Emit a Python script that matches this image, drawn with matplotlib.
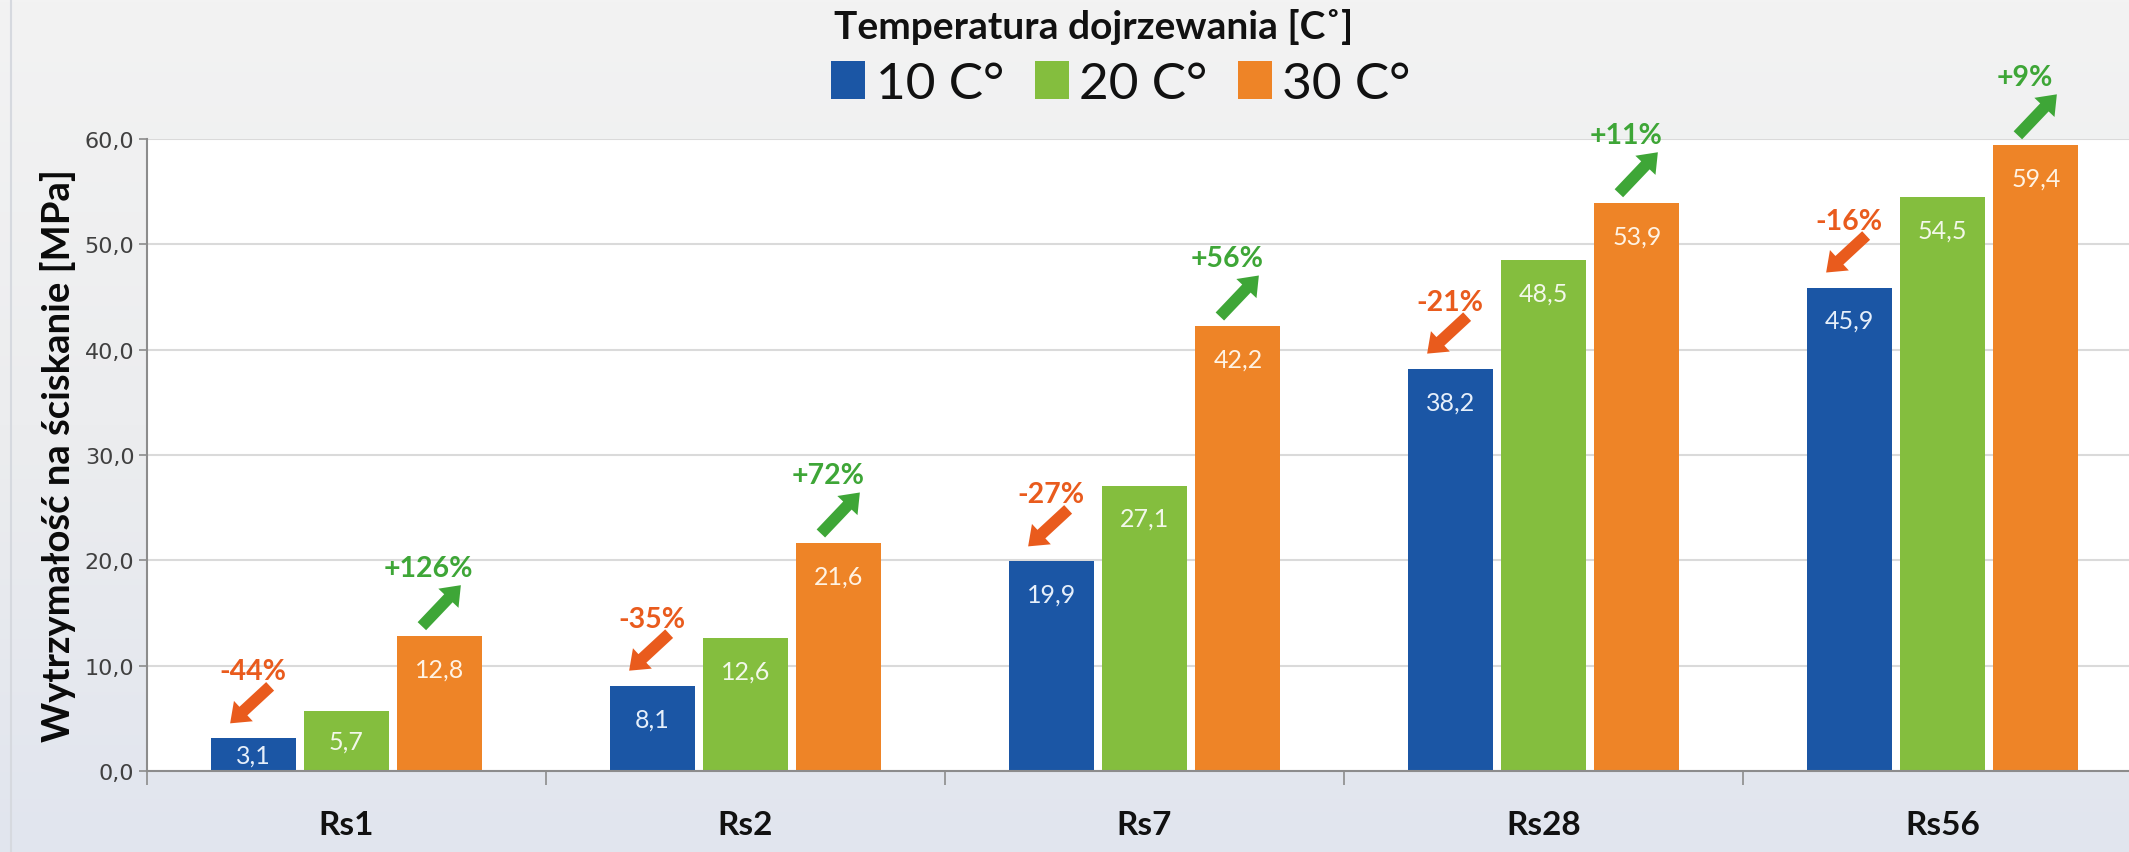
import numpy as np
import matplotlib
matplotlib.use("Agg")
import matplotlib.pyplot as plt
from matplotlib import transforms
from matplotlib.patches import Patch
from matplotlib.lines import Line2D
from matplotlib.colors import LinearSegmentedColormap

# ---- data ----
categories = ["Rs1", "Rs2", "Rs7", "Rs28", "Rs56"]
series_names = ["10 C°", "20 C°", "30 C°"]
t10 = [3.1, 8.1, 19.9, 38.2, 45.9]
t20 = [5.7, 12.6, 27.1, 48.5, 54.5]
t30 = [12.8, 21.6, 42.2, 53.9, 59.4]
change_10 = ["-44%", "-35%", "-27%", "-21%", "-16%"]
change_30 = ["+126%", "+72%", "+56%", "+11%", "+9%"]
yticks = [0, 10, 20, 30, 40, 50, 60]

# ---- style ----
BLUE, GREEN, ORANGE = "#1B56A5", "#84BE3E", "#EE8427"
TXT_ON = ["#e6effa", "#f3f8ea", "#fff3e4"]
DOWN_C, UP_C = "#E95B1D", "#3EA637"
CAL = ["Lato", "DejaVu Sans"]

W, H, DPI = 2129, 853, 100
fig = plt.figure(figsize=(W / DPI, H / DPI), dpi=DPI)

# soft vertical gradient behind everything
bg = fig.add_axes([0, 0, 1, 1], zorder=-10)
cmap = LinearSegmentedColormap.from_list("bg", ["#f3f3f3", "#ecedef", "#e1e5ee"])
bg.imshow(np.linspace(0, 1, 256).reshape(-1, 1), aspect="auto", cmap=cmap,
          extent=[0, 1, 0, 1], origin="upper")
bg.axis("off")
fig.add_artist(Line2D([11 / W, 11 / W], [0, 1], transform=fig.transFigure,
                      color="#d6d9df", lw=1.5))

# plot area (runs past the right edge of the canvas)
left, bottom = 147 / W, 1 - 772 / H
ax = fig.add_axes([left, bottom, 1995 / W, 632 / H])
ax.set_facecolor("white")
ax.set_xlim(-0.5, len(categories) - 0.5)
ax.set_ylim(0, 60)

x = np.arange(len(categories))
bw, off = 0.213, 0.234
series = [t10, t20, t30]
colors = [BLUE, GREEN, ORANGE]
bar_sets = []
for i, (vals, c) in enumerate(zip(series, colors)):
    bars = ax.bar(x + (i - 1) * off, vals, width=bw, color=c, zorder=3,
                  label=series_names[i])
    bar_sets.append(bars)

# grid and axes
ax.set_yticks(yticks)
ax.yaxis.set_major_formatter(plt.FuncFormatter(lambda v, p: f"{v:.1f}".replace(".", ",")))
ax.grid(axis="y", color="#dadada", lw=1.5, zorder=0)
for s in ["top", "right"]:
    ax.spines[s].set_visible(False)
for s in ["left", "bottom"]:
    ax.spines[s].set_color("#8c8c8c")
    ax.spines[s].set_linewidth(1.5)
    ax.spines[s].set_zorder(4)
ax.tick_params(axis="y", length=6, width=1.2, color="#8c8c8c", pad=3,
               labelsize=16, labelcolor="#404040")
for lab in ax.get_yticklabels():
    lab.set_family("DejaVu Sans")

ax.set_xticks(np.arange(len(categories) + 1) - 0.5)
ax.set_xticklabels([])
ax.tick_params(axis="x", which="major", length=10, width=1.2, color="#8c8c8c")
ax.set_xticks(x, minor=True)
ax.set_xticklabels(categories, minor=True, family=CAL, fontweight="bold",
                   fontsize=24, color="#111111")
ax.tick_params(axis="x", which="minor", length=0, pad=28)

ax.set_ylabel("Wytrzymałość na ściskanie [MPa]", family=CAL, fontweight="bold",
              fontsize=27.5, color="#0a0a0a", labelpad=6)


def px(dx, dy):
    return transforms.offset_copy(ax.transData, fig=fig, x=dx, y=dy, units="dots")


# value labels inside the bar tops
for bars, vals, tc in zip(bar_sets, series, TXT_ON):
    for b, v in zip(bars, vals):
        cx = b.get_x() + b.get_width() / 2
        hpx = v * 632 / 60
        dy = -min(33, hpx / 2)
        ax.text(cx, v, f"{v:.1f}".replace(".", ","), transform=px(0, dy),
                ha="center", va="center", family=CAL, fontsize=18,
                color=tc, zorder=5)

# change arrows and percentages
astyle = "simple,head_length=0.65,head_width=1.0,tail_width=0.42"
for b, lab in zip(bar_sets[0], change_10):
    cx = b.get_x() + b.get_width() / 2
    top = b.get_height()
    ax.annotate("", xy=(cx, top), xycoords=px(-23, 15),
                xytext=(cx, top), textcoords=px(17, 52),
                arrowprops=dict(arrowstyle=astyle, color=DOWN_C, lw=0,
                                shrinkA=0, shrinkB=0, mutation_scale=20),
                zorder=6)
    ax.text(cx, top, lab, transform=px(0, 67), ha="center", va="center",
            family=CAL, fontweight="bold", fontsize=20.5, color=DOWN_C, zorder=6)

for b, lab in zip(bar_sets[2], change_30):
    cx = b.get_x() + b.get_width() / 2
    top = b.get_height()
    ax.annotate("", xy=(cx, top), xycoords=px(21, 51),
                xytext=(cx, top), textcoords=px(-18, 10),
                arrowprops=dict(arrowstyle=astyle, color=UP_C, lw=0,
                                shrinkA=0, shrinkB=0, mutation_scale=20),
                zorder=6, annotation_clip=False)
    ax.text(cx, top, lab, transform=px(-11, 68), ha="center", va="center",
            family=CAL, fontweight="bold", fontsize=20.5, color=UP_C, zorder=6,
            clip_on=False)

# legend with heading
fig.text(1094 / W, 1 - 27 / H, "Temperatura dojrzewania [C˚]", ha="center",
         va="center", family=CAL, fontweight="bold", fontsize=28, color="#111111")
handles = [Patch(facecolor=c, edgecolor="none") for c in colors]
fig.legend(handles, series_names, loc="center", bbox_to_anchor=(1121 / W, 1 - 85 / H),
           ncol=3, frameon=False, prop=dict(family=CAL, size=37),
           handlelength=0.66, handleheight=0.74, handletextpad=0.2,
           columnspacing=0.6, borderpad=0, labelcolor="#111111")

fig.savefig("out.png", dpi=DPI)
